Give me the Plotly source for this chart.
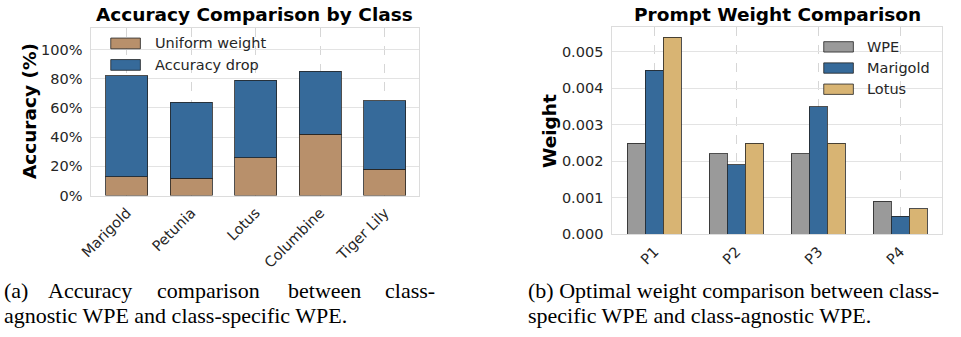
import plotly.graph_objects as go

# ---------------- data ----------------
classes = ["Marigold", "Petunia", "Lotus", "Columbine", "Tiger Lily"]
uniform_weight = [13, 12, 26, 42, 18]          # %
accuracy_drop = [69, 52, 53, 43, 47]           # % (stacked on top)
acc_ticks = [0, 20, 40, 60, 80, 100]
acc_tick_labels = ["0%", "20%", "40%", "60%", "80%", "100%"]

prompts = ["P1", "P2", "P3", "P4"]
wpe = [0.0025, 0.0022, 0.0022, 0.0009]
marigold = [0.0045, 0.0019, 0.0035, 0.0005]
lotus = [0.0054, 0.0025, 0.0025, 0.0007]
weight_ticks = [0.000, 0.001, 0.002, 0.003, 0.004, 0.005]

left_title = "Accuracy Comparison by Class"
right_title = "Prompt Weight Comparison"
left_ylabel = "Accuracy (%)"
right_ylabel = "Weight"
left_legend = ["Uniform weight", "Accuracy drop"]
right_legend = ["WPE", "Marigold", "Lotus"]
cap_a_line1 = ["(a)", "Accuracy", "comparison", "between", "class-"]
cap_a_line2 = "agnostic WPE and class-specific WPE."
cap_b_line1 = "(b) Optimal weight comparison between class-"
cap_b_line2 = "specific WPE and class-agnostic WPE."

# ---------------- style ----------------
W, H = 961, 337
FONT = "DejaVu Sans"
SERIF = "Liberation Serif"
TAN = "#b8906b"
BLUE = "#366a9a"
GRAY = "#9a9a9a"
GOLD = "#d8b473"
EDGE = "rgba(35,35,35,0.8)"
TXT = "#262626"
GRID = "#e3e3e3"
VGRID = "#d6d6d6"
SPINE = "#dcdcdc"
TICK = 14.5


def px(x):
    return x / W


def py(y):
    return 1 - y / H


fig = go.Figure()

# left: stacked bars
fig.add_trace(go.Bar(x=list(range(len(classes))), y=uniform_weight, name=left_legend[0],
                     marker=dict(color=TAN, line=dict(color=EDGE, width=1)),
                     xaxis="x", yaxis="y", showlegend=False))
fig.add_trace(go.Bar(x=list(range(len(classes))), y=accuracy_drop, name=left_legend[1],
                     marker=dict(color=BLUE, line=dict(color=EDGE, width=1)),
                     xaxis="x", yaxis="y", showlegend=False))

# right: grouped bars
for vals, col, nm, off in [(wpe, GRAY, right_legend[0], -1),
                           (marigold, BLUE, right_legend[1], 0),
                           (lotus, GOLD, right_legend[2], 1)]:
    fig.add_trace(go.Bar(x=[i + off * 0.22 for i in range(len(prompts))], y=vals, name=nm,
                         width=0.22,
                         marker=dict(color=col, line=dict(color=EDGE, width=1)),
                         xaxis="x2", yaxis="y2", showlegend=False))

axis_common = dict(showline=True, mirror=True, linecolor=SPINE, linewidth=1.2,
                   ticks="", tickfont=dict(family=FONT, size=TICK, color=TXT),
                   zeroline=False)

fig.update_layout(
    width=W, height=H,
    margin=dict(l=0, r=0, t=0, b=0),
    paper_bgcolor="white", plot_bgcolor="white",
    barmode="stack", bargap=0.35,
    font=dict(family=FONT, color=TXT),
    showlegend=False,
    xaxis=dict(domain=[px(79.5), px(412)], range=[-0.5636, 4.528],
               tickvals=list(range(len(classes))), ticktext=classes, tickangle=-45,
               showgrid=True, gridcolor=VGRID, griddash="dash", gridwidth=0.8,
               ticklabelstandoff=2, **axis_common),
    yaxis=dict(domain=[py(200.3), py(28.3)], range=[0, 115],
               tickvals=acc_ticks, ticktext=acc_tick_labels,
               showgrid=True, gridcolor=GRID, gridwidth=1,
               ticklabelstandoff=4, **axis_common),
    xaxis2=dict(domain=[px(608), px(942)], range=[-0.513, 3.513], anchor="y2",
                tickvals=list(range(len(prompts))), ticktext=prompts, tickangle=-45,
                showgrid=True, gridcolor=VGRID, griddash="dash", gridwidth=0.8,
                ticklabelstandoff=2, **axis_common),
    yaxis2=dict(domain=[py(240), py(28)], range=[0, 0.00567], anchor="x2",
                tickvals=weight_ticks, tickformat=".3f",
                showgrid=True, gridcolor=GRID, gridwidth=1,
                ticklabelstandoff=5, **axis_common),
)

ann = []
# titles
ann.append(dict(text=f"<b>{left_title}</b>", x=px((79.5 + 412) / 2), y=py(14.5),
                font=dict(family=FONT, size=18.5, color="black")))
ann.append(dict(text=f"<b>{right_title}</b>", x=px((608 + 942) / 2), y=py(14.5),
                font=dict(family=FONT, size=18.5, color="black")))
# y labels
ann.append(dict(text=f"<b>{left_ylabel}</b>", x=px(18), y=py(114), textangle=-90,
                font=dict(family=FONT, size=18.5, color="black")))
ann.append(dict(text=f"<b>{right_ylabel}</b>", x=px(545), y=py(134), textangle=-90,
                font=dict(family=FONT, size=18.5, color="black")))

shapes = []
# left legend
for i, (lab, col) in enumerate(zip(left_legend, [TAN, BLUE])):
    yc = 44.5 + i * 22
    shapes.append(dict(type="rect", xref="paper", yref="paper",
                       x0=px(100), x1=px(130), y0=py(yc - 5.5), y1=py(yc + 5.5),
                       fillcolor=col, line=dict(color=EDGE, width=1)))
    ann.append(dict(text=lab, x=px(143), y=py(yc), xanchor="left",
                    font=dict(family=FONT, size=TICK, color=TXT)))
# right legend
for i, (lab, col) in enumerate(zip(right_legend, [GRAY, BLUE, GOLD])):
    yc = 48 + i * 21.7
    shapes.append(dict(type="rect", xref="paper", yref="paper",
                       x0=px(822), x1=px(852), y0=py(yc - 5.3), y1=py(yc + 5.3),
                       fillcolor=col, line=dict(color=EDGE, width=1)))
    ann.append(dict(text=lab, x=px(864), y=py(yc), xanchor="left",
                    font=dict(family=FONT, size=TICK, color=TXT)))

# captions
CAP = dict(family=SERIF, size=22, color="black")
word_x = [18, 34, 145, 277, 376]
for w, xx in zip(cap_a_line1, word_x):
    ann.append(dict(text=w, x=px(xx), y=py(298), xanchor="right" if w == "(a)" else "left",
                    font=CAP))
ann.append(dict(text=cap_a_line2, x=px(-10), y=py(323), xanchor="left", font=CAP))
ann.append(dict(text=cap_b_line1, x=px(521), y=py(298), xanchor="left", font=CAP))
ann.append(dict(text=cap_b_line2, x=px(521), y=py(323), xanchor="left", font=CAP))

for a in ann:
    a.setdefault("xref", "paper")
    a.setdefault("yref", "paper")
    a.setdefault("showarrow", False)
    a.setdefault("xanchor", "center")
    a.setdefault("yanchor", "middle")

fig.update_layout(annotations=ann, shapes=shapes)
fig.write_html("out.html", config={"displayModeBar": False},
               post_script="document.body.style.margin='0';document.body.style.overflow='hidden';")
